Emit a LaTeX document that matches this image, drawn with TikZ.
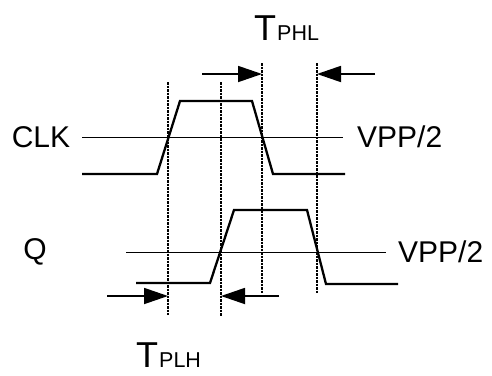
\documentclass[tikz,border=0pt]{standalone}
\usepackage{fontspec}
\setmainfont{Liberation Sans}
\usetikzlibrary{arrows.meta,positioning,calc}
\newcommand{\bigT}[1]{{\fontsize{36}{36}\selectfont T}\kern1pt{\fontsize{21.5}{21.5}\selectfont #1}}

\begin{document}
\begin{tikzpicture}[x=1pt,y=-1pt,>={Triangle[length=24pt,width=16pt]},
  wave/.style={line width=2.3pt,line join=miter},
  midline/.style={line width=0.8pt},
  marker/.style={line width=2pt,dash pattern=on 2.5pt off 1pt},
  timing/.style={line width=1.8pt,->},
  lbl/.style={font=\fontsize{30}{30}\selectfont,inner sep=0pt}]
 \useasboundingbox (0,0) rectangle (492,375);
 % dashed markers
 \foreach \n/\x/\t/\b in {a/168/82/315,b/221/82/316,c/262/63/293,d/317/63/293}{
  \coordinate (top\n) at (\x,\t);
  \coordinate (bot\n) at (\x,\b);
  \draw[marker] (top\n) -- (bot\n);}
 % waveforms
 \draw[midline] (82,137) -- (343,137);
 \draw[wave] (82,174) -- (157,174) -- (180,101) -- (252,101) -- (273,174) -- (345,174);
 \draw[midline] (126,252) -- (386,252);
 \draw[wave] (136,283) -- (210,283) -- (234,210) -- (307,210) -- (326,284) -- (398,284);
 % labels
 \node[lbl] (clk) at (41,137) {CLK};
 \node[lbl,anchor=west] (vclk) at (357,137) {VPP/2};
 \node[lbl] (q) at (35,252) {Q};
 \node[lbl,anchor=west] (vq) at (398,252) {VPP/2};
 \node[inner sep=0pt,anchor=base west] (tphl) at (254,40) {\bigT{PHL}};
 \node[inner sep=0pt,anchor=base west] (tplh) at (136,367) {\bigT{PLH}};
 % timing arrows
 \coordinate (phl1) at (202,74);
 \coordinate (phl2) at (375,74);
 \coordinate (plh1) at (107,296);
 \coordinate (plh2) at (279,296);
 \draw[timing] (phl1) -- (phl1 -| topc);
 \draw[timing] (phl2) -- (phl2 -| topd);
 \draw[timing] (plh1) -- (plh1 -| topa);
 \draw[timing] (plh2) -- (plh2 -| topb);
\end{tikzpicture}
\end{document}
